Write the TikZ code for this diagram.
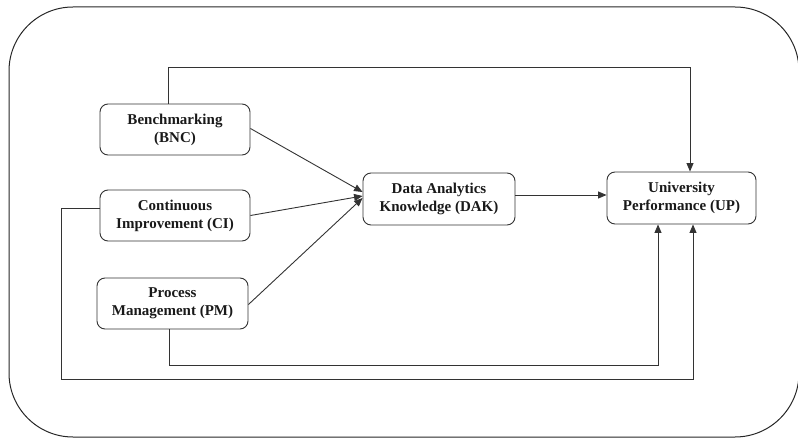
\documentclass[tikz,border=0pt]{standalone}
\usepackage{fontspec}
\setmainfont{Liberation Serif}
\usetikzlibrary{arrows.meta}
\begin{document}
\begin{tikzpicture}[x=1pt,y=-1pt,
  box/.style={draw=black!80, line width=0.9pt, rounded corners=8pt, align=center,
    font=\fontsize{15}{18}\selectfont\bfseries, text=black!90, inner sep=0pt},
  arr/.style={draw=black!80, line width=0.9pt, -{Triangle[length=8.5pt,width=7pt]}},
  ln/.style={draw=black!80, line width=0.9pt}]
\useasboundingbox (0,0) rectangle (798,438);
\clip (0,0) rectangle (798,438);
\draw[black!85, line width=1pt, rounded corners=64pt] (9,7) rectangle (799,437);
\node[box, minimum width=150pt, minimum height=51pt] (bnc) at (175,129.5) {Benchmarking\\(BNC)};
\node[box, minimum width=150pt, minimum height=51pt] (ci) at (175,215.5) {Continuous\\Improvement (CI)};
\node[box, minimum width=151pt, minimum height=51pt] (pm) at (172.5,303.5) {Process\\Management (PM)};
\node[box, minimum width=152pt, minimum height=52pt] (dak) at (439,199) {Data Analytics\\Knowledge (DAK)};
\node[box, minimum width=149pt, minimum height=52pt] (up) at (681.5,198) {University\\Performance (UP)};
\draw[arr] ([yshift=1pt]bnc.east) -- ([yshift=7pt]dak.west);
\draw[arr] (ci.east) -- ([yshift=3pt]dak.west);
\draw[arr] ([yshift=-1pt]pm.east) -- ([yshift=1pt]dak.west);
\draw[arr] ([yshift=4pt]dak.east) -- ([yshift=3pt]up.west);
\draw[arr] ([xshift=-7pt]bnc.north) -- ++(0,-36) -| ([xshift=8.5pt]up.north);
\draw[arr] ([yshift=7pt]ci.west) -| (61,379) -| ([xshift=11.5pt]up.south);
\draw[arr] ([xshift=-3.5pt]pm.south) -- ++(0,36) -| ([xshift=-23.5pt]up.south);
\end{tikzpicture}
\end{document}
